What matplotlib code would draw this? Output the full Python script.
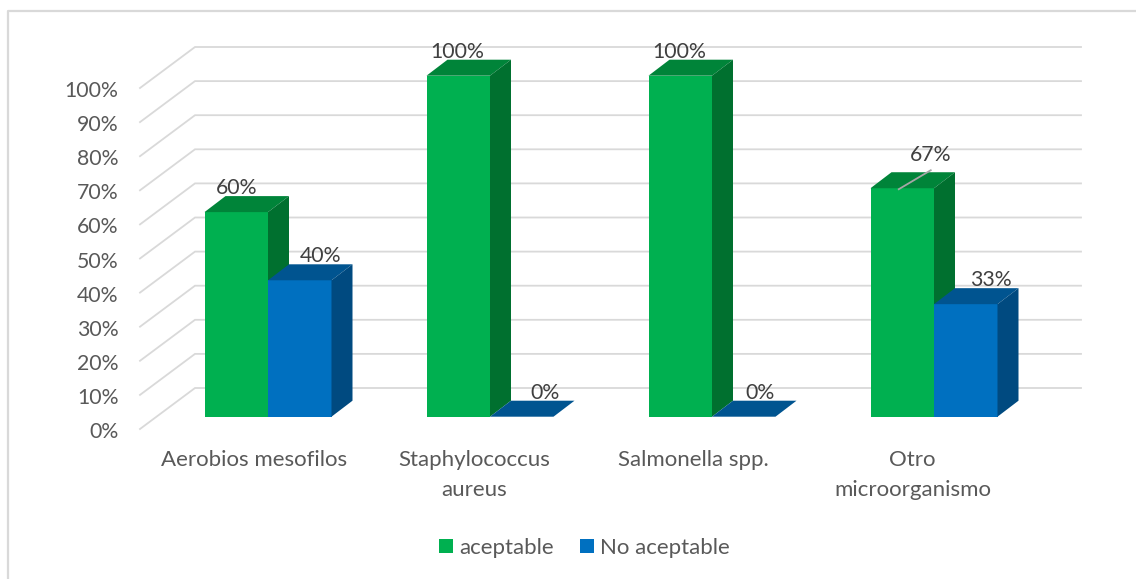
import matplotlib
matplotlib.use('Agg')
import matplotlib.pyplot as plt
from matplotlib.patches import Patch, Polygon

plt.rcParams['font.family'] = ['Lato', 'DejaVu Sans']

categories = ['Aerobios mesofilos', 'Staphylococcus\naureus', 'Salmonella spp.', 'Otro\nmicroorganismo']
series_names = ['aceptable', 'No aceptable']
aceptable = [60, 100, 100, 67]
no_aceptable = [40, 0, 0, 33]
y_ticks = [0, 10, 20, 30, 40, 50, 60, 70, 80, 90, 100]

# colours for each series: front, top, side
GREEN = ('#00B050', '#008439', '#00702F')
BLUE = ('#0070C0', '#005490', '#004A80')
GRID = '#D9D9D9'

# scale of the drawing: pixels per category and per percent point
W, H = 1136, 579
PX_X = 222.0
PX_Y = 3.41
X0, Y0 = 268.0, 416.7  # where category 0 meets the baseline


def px_x(p):
    return p / PX_X


def px_y(p):
    return p / PX_Y


fig = plt.figure(figsize=(W / 100, H / 100), dpi=100)
ax = fig.add_axes([0, 0, 1, 1])
ax.set_xlim(-X0 / PX_X, (W - X0) / PX_X)
ax.set_ylim((Y0 - H) / PX_Y, Y0 / PX_Y)
ax.axis('off')

# chart frame, open on the right and at the bottom
left = -X0 / PX_X + px_x(8)
top = Y0 / PX_Y - px_y(11)
ax.plot([left, left, ax.get_xlim()[1]], [ax.get_ylim()[0], top, top], color=GRID, lw=1.6, zorder=1)

# gridlines run along the back wall and bend forward over the floor
grid_front = (px_x(140 - X0), px_y(Y0 - 429))
grid_back = (px_x(195 - X0), px_y(Y0 - 388))
grid_end = px_x(1081 - X0)
for v in y_ticks:
    ax.plot([grid_front[0], grid_back[0], grid_end],
            [v + grid_front[1], v + grid_back[1], v + grid_back[1]],
            color=GRID, lw=1.3, zorder=1, solid_joinstyle='miter')
    ax.text(px_x(118.5 - X0), v + grid_front[1] - px_y(1), f'{v}%', ha='right', va='center_baseline',
            fontsize=15.3, color='#595959')


def bar3d(x0, x1, value, colors, z):
    dx, dy = px_x(21), px_y(16)
    ax.add_patch(Polygon([(x0, 0), (x1, 0), (x1, value), (x0, value)], fc=colors[0], ec='none', zorder=z))
    ax.add_patch(Polygon([(x0, value), (x1, value), (x1 + dx, value + dy), (x0 + dx, value + dy)],
                         fc=colors[1], ec='none', zorder=z))
    ax.add_patch(Polygon([(x1, 0), (x1 + dx, dy), (x1 + dx, value + dy), (x1, value)],
                         fc=colors[2], ec='none', zorder=z))


bar_w = px_x(63.5)
for i in range(len(categories)):
    bar3d(i - bar_w, i, aceptable[i], GREEN, 3)
    bar3d(i, i + bar_w, no_aceptable[i], BLUE, 4)

# data labels sit above the bar tops, shifted sideways to clear the neighbour
label_dx_green = [0, -1.5, -1.5, 28]
label_dx_blue = [21, 23, 16, 25]
for i in range(len(categories)):
    up = 35 if aceptable[i] == 67 else 26
    ax.text(i - bar_w / 2 + px_x(label_dx_green[i]), aceptable[i] + px_y(up), f'{aceptable[i]}%',
            ha='center', va='center_baseline', fontsize=15.3, color='#404040', zorder=6)
    ax.text(i + bar_w / 2 + px_x(label_dx_blue[i]), no_aceptable[i] + px_y(26), f'{no_aceptable[i]}%',
            ha='center', va='center_baseline', fontsize=15.3, color='#404040', zorder=6)

    # category names
    ax.text(i * 0.988 - 0.061, px_y(Y0 - 450), categories[i], ha='center', va='top',
            fontsize=16, color='#595959', linespacing=1.6)

# leader line of the 67% label
ax.plot([3 - bar_w / 2 - px_x(3.5), 3 - bar_w / 2 + px_x(28.5)],
        [aceptable[3] - px_y(1), aceptable[3] + px_y(18)], color='#A6A6A6', lw=1.3, zorder=5)

handles = [Patch(fc=GREEN[0], label=series_names[0]), Patch(fc=BLUE[0], label=series_names[1])]
ax.legend(handles=handles, loc='center', bbox_to_anchor=(584.5 / W, 1 - 548 / H), ncol=2, frameon=False,
          fontsize=16, labelcolor='#595959', handlelength=0.63, handleheight=0.63,
          handletextpad=0.25, columnspacing=1.2, borderpad=0, borderaxespad=0)

fig.savefig('out.png', dpi=100)
